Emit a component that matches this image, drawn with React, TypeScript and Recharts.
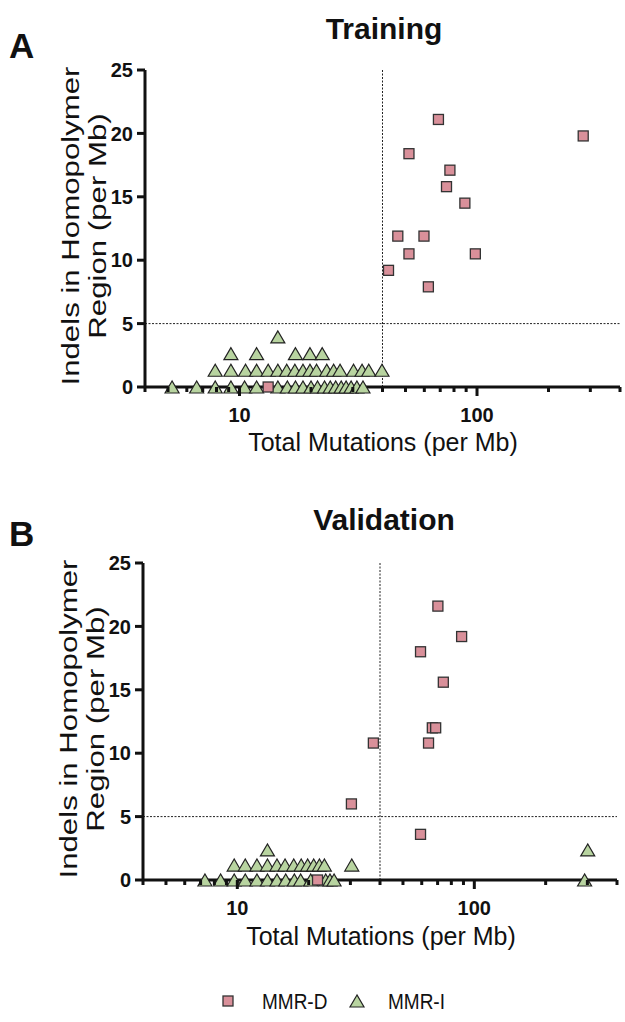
import React from 'react';
import { ScatterChart, Scatter, XAxis, YAxis, ReferenceLine } from 'recharts';

const FONT = '"Liberation Sans", Arial, Helvetica, sans-serif';

// tick values
const xTicks = [4, 5, 6, 7, 8, 9, 10, 20, 30, 40, 50, 60, 70, 80, 90, 100, 200, 300, 400];
const xMajor = [10, 100];
const yTicks = [0, 5, 10, 15, 20, 25];
const xCutoff = 40;
const yCutoff = 5;

// Training – MMR-D
const trainingDX = [68.8, 280, 51.7, 76.9, 74.4, 88.9, 46.4, 59.8, 51.7, 98.4, 42.4, 62.4, 13.2];
const trainingDY = [21.1, 19.8, 18.4, 17.1, 15.8, 14.5, 11.9, 11.9, 10.5, 10.5, 9.2, 7.9, 0];

// Training – MMR-I
const trainingIX = [
  5.2, 6.6, 7.9, 9.2, 10.5, 11.8, 14.5, 15.9, 17.2, 18.5, 20.0, 21.3, 22.8, 24.1, 25.4, 26.8, 28.1, 29.5, 31.2, 33.1,
  7.9, 9.2, 10.6, 11.8, 13.2, 14.5, 15.8, 17.1, 18.5, 19.8, 21.1, 23.3, 24.9, 26.5, 30.2, 32.8, 35.0, 39.8,
  9.2, 11.8, 17.2, 19.8, 22.3,
  14.5,
];
const trainingIY = [
  0, 0, 0, 0, 0, 0, 0, 0, 0, 0, 0, 0, 0, 0, 0, 0, 0, 0, 0, 0,
  1.32, 1.32, 1.32, 1.32, 1.32, 1.32, 1.32, 1.32, 1.32, 1.32, 1.32, 1.32, 1.32, 1.32, 1.32, 1.32, 1.32, 1.32,
  2.63, 2.63, 2.63, 2.63, 2.63,
  3.95,
];

// Validation – MMR-D
const validationDX = [70.2, 88.4, 59.3, 74.0, 66.5, 68.7, 64.1, 37.5, 30.3, 59.3, 21.8];
const validationDY = [21.6, 19.2, 18.0, 15.6, 12.0, 12.0, 10.8, 10.8, 6.0, 3.6, 0];

// Validation – MMR-I
const validationIX = [
  7.3, 8.5, 9.7, 10.8, 12.1, 13.4, 14.7, 16.0, 17.4, 18.5, 20.4, 23.6, 24.6, 25.6, 292,
  9.7, 10.8, 12.1, 13.4, 14.7, 15.9, 17.3, 18.6, 19.8, 21.0, 22.2, 23.3, 30.4,
  13.4, 301,
];
const validationIY = [
  0, 0, 0, 0, 0, 0, 0, 0, 0, 0, 0, 0, 0, 0, 0,
  1.18, 1.18, 1.18, 1.18, 1.18, 1.18, 1.18, 1.18, 1.18, 1.18, 1.18, 1.18, 1.18,
  2.37, 2.37,
];

const zip = (xs: number[], ys: number[]) => xs.map((x, i) => ({ x, y: ys[i] }));

const PINK = '#d9909a';
const GREEN = '#b8d4a0';
const INK = '#111';

const Square = (p: any) => (
  <rect x={p.cx - 5} y={p.cy - 5} width={10} height={10} fill={PINK} stroke="#333" strokeWidth={1.3} />
);
const Triangle = (p: any) => (
  <polygon
    points={`${p.cx},${p.cy - 6} ${p.cx - 7},${p.cy + 6} ${p.cx + 7},${p.cy + 6}`}
    fill={GREEN}
    stroke="#222"
    strokeWidth={1.2}
  />
);

const XTick = (props: any) => {
  const { x, y, payload } = props;
  const major = xMajor.includes(payload.value);
  return (
    <g>
      <line x1={x} x2={x} y1={y} y2={y + (major ? 9 : 5)} stroke={INK} strokeWidth={3} />
      {major && (
        <text x={x} y={y + 35} textAnchor="middle" fontFamily={FONT} fontWeight="bold" fontSize={20} fill={INK}>
          {payload.value}
        </text>
      )}
    </g>
  );
};

const YTick = (props: any) => {
  const { x, y, payload } = props;
  return (
    <g>
      <line x1={x} x2={x - 8} y1={y} y2={y} stroke={INK} strokeWidth={3} />
      <text x={x - 12} y={y} dy="0.36em" textAnchor="end" fontFamily={FONT} fontWeight="bold" fontSize={20} fill={INK}>
        {payload.value}
      </text>
    </g>
  );
};

type PanelProps = {
  top: number;
  left: number;
  marginLeft: number;
  marginRight: number;
  dData: { x: number; y: number }[];
  iData: { x: number; y: number }[];
};

const Panel = ({ top, left, marginLeft, marginRight, dData, iData }: PanelProps) => (
  <div style={{ position: 'absolute', top, left }}>
    <ScatterChart
      width={625}
      height={490}
      margin={{ top: 70, right: marginRight, bottom: 63, left: marginLeft }}
    >
      <XAxis
        type="number"
        dataKey="x"
        scale="log"
        domain={[4, 400]}
        ticks={xTicks}
        interval={0}
        height={40}
        tickSize={0}
        tickMargin={0}
        tick={<XTick />}
        axisLine={{ stroke: INK, strokeWidth: 3 }}
        tickLine={false}
      />
      <YAxis
        type="number"
        dataKey="y"
        domain={[0, 25]}
        ticks={yTicks}
        interval={0}
        width={60}
        tickSize={0}
        tickMargin={0}
        tick={<YTick />}
        axisLine={{ stroke: INK, strokeWidth: 3 }}
        tickLine={false}
      />
      <ReferenceLine x={xCutoff} stroke="#222" strokeWidth={1} strokeDasharray="2 1.5" />
      <ReferenceLine y={yCutoff} stroke="#222" strokeWidth={1} strokeDasharray="2 1.5" />
      <Scatter name="MMR-I" data={iData} shape={Triangle} isAnimationActive={false} />
      <Scatter name="MMR-D" data={dData} shape={Square} isAnimationActive={false} />
    </ScatterChart>
  </div>
);

const textBase = { fontFamily: FONT, fill: INK } as const;

const YLabel = ({ cy, x1, x2 }: { cy: number; x1: number; x2: number }) => (
  <g>
    <text {...textBase} fontSize={24} x={0} y={0} textAnchor="middle" transform={`translate(${x1},${cy}) rotate(-90) scale(1.3,1)`}>
      Indels in Homopolymer
    </text>
    <text {...textBase} fontSize={24} x={0} y={0} textAnchor="middle" transform={`translate(${x2},${cy}) rotate(-90) scale(1.3,1)`}>
      Region (per Mb)
    </text>
  </g>
);

export default function App() {
  return (
    <div style={{ position: 'absolute', left: 0, top: 0, width: 625, height: 1022, background: '#fff', overflow: 'hidden' }}>
      <Panel top={0} left={0} marginLeft={85} marginRight={5} dData={zip(trainingDX, trainingDY)} iData={zip(trainingIX, trainingIY)} />
      <Panel top={493} left={0} marginLeft={83} marginRight={8} dData={zip(validationDX, validationDY)} iData={zip(validationIX, validationIY)} />
      <svg width={625} height={1022} style={{ position: 'absolute', left: 0, top: 0, pointerEvents: 'none' }}>
        <text {...textBase} x={9} y={58} fontSize={35} fontWeight="bold">A</text>
        <text {...textBase} x={384} y={39} fontSize={30} fontWeight="bold" textAnchor="middle">Training</text>
        <YLabel cy={226} x1={79} x2={106} />
        <text {...textBase} x={383} y={451} fontSize={25} textAnchor="middle">Total Mutations (per Mb)</text>

        <text {...textBase} x={9} y={546} fontSize={35} fontWeight="bold">B</text>
        <text {...textBase} x={384} y={530} fontSize={30} fontWeight="bold" textAnchor="middle">Validation</text>
        <YLabel cy={719} x1={77} x2={104} />
        <text {...textBase} x={381} y={945} fontSize={25} textAnchor="middle">Total Mutations (per Mb)</text>

        <rect x={223} y={996} width={10} height={10} fill={PINK} stroke="#333" strokeWidth={1.3} />
        <text {...textBase} x={0} y={0} fontSize={19} transform="translate(262,1009) scale(1,1.2)">MMR-D</text>
        <polygon points="357,995 350,1007 364,1007" fill={GREEN} stroke="#222" strokeWidth={1.2} />
        <text {...textBase} x={0} y={0} fontSize={19} transform="translate(388,1009) scale(1,1.2)">MMR-I</text>
      </svg>
    </div>
  );
}
